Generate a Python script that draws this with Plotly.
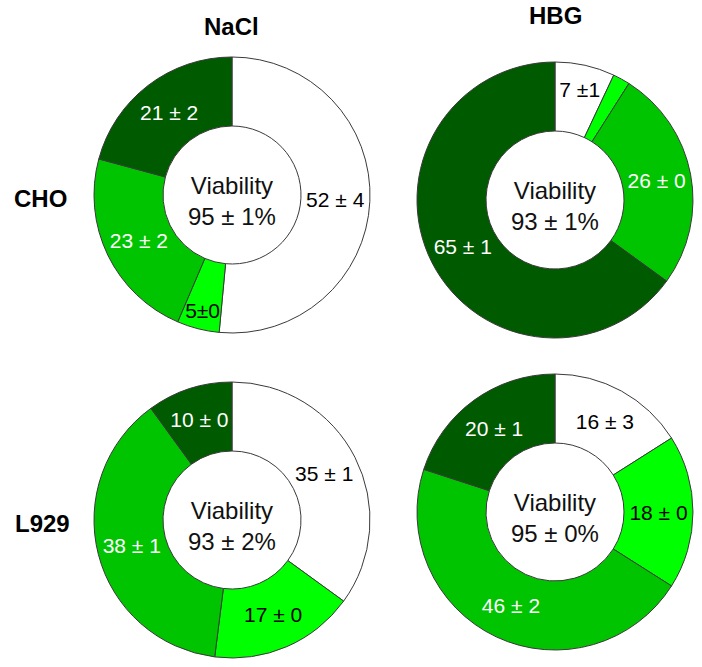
import plotly.graph_objects as go

# Data
segments = ["White fraction", "Light green fraction", "Green fraction", "Dark green fraction"]
colors = ["#FFFFFF", "#00FF00", "#00C400", "#005A00"]
text_colors = ["#000000", "#000000", "#FFFFFF", "#FFFFFF"]

cho_nacl_values = [52, 5, 23, 21]
cho_nacl_text = ["52 ± 4", "5±0", "23 ± 2", "21 ± 2"]
cho_nacl_viability = "Viability<br>95 ± 1%"

cho_hbg_values = [7, 2, 26, 65]
cho_hbg_text = ["7 ±1", "", "26 ± 0", "65 ± 1"]
cho_hbg_viability = "Viability<br>93 ± 1%"

l929_nacl_values = [35, 17, 38, 10]
l929_nacl_text = ["35 ± 1", "17 ± 0", "38 ± 1", "10 ± 0"]
l929_nacl_viability = "Viability<br>93 ± 2%"

l929_hbg_values = [16, 18, 46, 20]
l929_hbg_text = ["16 ± 3", "18 ± 0", "46 ± 2", "20 ± 1"]
l929_hbg_viability = "Viability<br>95 ± 0%"

column_titles = ["NaCl", "HBG"]
row_titles = ["CHO", "L929"]

W, H = 702, 667
FONT = "Liberation Sans, Arial, sans-serif"

def dom(cx, cy, r):
    return dict(x=[(cx - r) / W, (cx + r) / W], y=[1 - (cy + r) / H, 1 - (cy - r) / H])

panels = [
    (cho_nacl_values, cho_nacl_text, cho_nacl_viability, (232, 195, 138)),
    (cho_hbg_values, cho_hbg_text, cho_hbg_viability, (555, 200, 138)),
    (l929_nacl_values, l929_nacl_text, l929_nacl_viability, (232, 520, 138)),
    (l929_hbg_values, l929_hbg_text, l929_hbg_viability, (555, 512, 138)),
]

fig = go.Figure()
annotations = []
for vals, txt, via, (cx, cy, r) in panels:
    fig.add_trace(go.Pie(
        labels=segments, values=vals, text=txt,
        textinfo="text", textposition="inside",
        insidetextorientation="horizontal",
        textfont=dict(color=text_colors, size=21, family=FONT),
        marker=dict(colors=colors, line=dict(color="#3a3a3a", width=1)),
        hole=0.5, sort=False, direction="clockwise", rotation=0,
        domain=dom(cx, cy, r), hoverinfo="skip", showlegend=False,
    ))
    annotations.append(dict(text=via, x=cx / W, y=1 - (cy + 6) / H,
                            font=dict(size=24, color="#111111", family=FONT)))

annotations += [
    dict(text="<b>%s</b>" % column_titles[0], x=232 / W, y=1 - 26 / H),
    dict(text="<b>%s</b>" % column_titles[1], x=555 / W, y=1 - 16 / H),
    dict(text="<b>%s</b>" % row_titles[0], x=40 / W, y=1 - 198 / H),
    dict(text="<b>%s</b>" % row_titles[1], x=42 / W, y=1 - 523 / H),
]
for a in annotations:
    a.update(xref="paper", yref="paper", showarrow=False, xanchor="center", yanchor="middle")
    if "font" not in a:
        a["font"] = dict(size=24, color="#000000", family=FONT)

fig.update_layout(width=W, height=H, margin=dict(l=0, r=0, t=0, b=0),
                  paper_bgcolor="white", plot_bgcolor="white", annotations=annotations,
                  uniformtext=dict(minsize=20, mode="show"))

fig.write_html("out.html", config={"displayModeBar": False},
               post_script="document.body.style.margin='0';document.body.style.overflow='hidden';")
